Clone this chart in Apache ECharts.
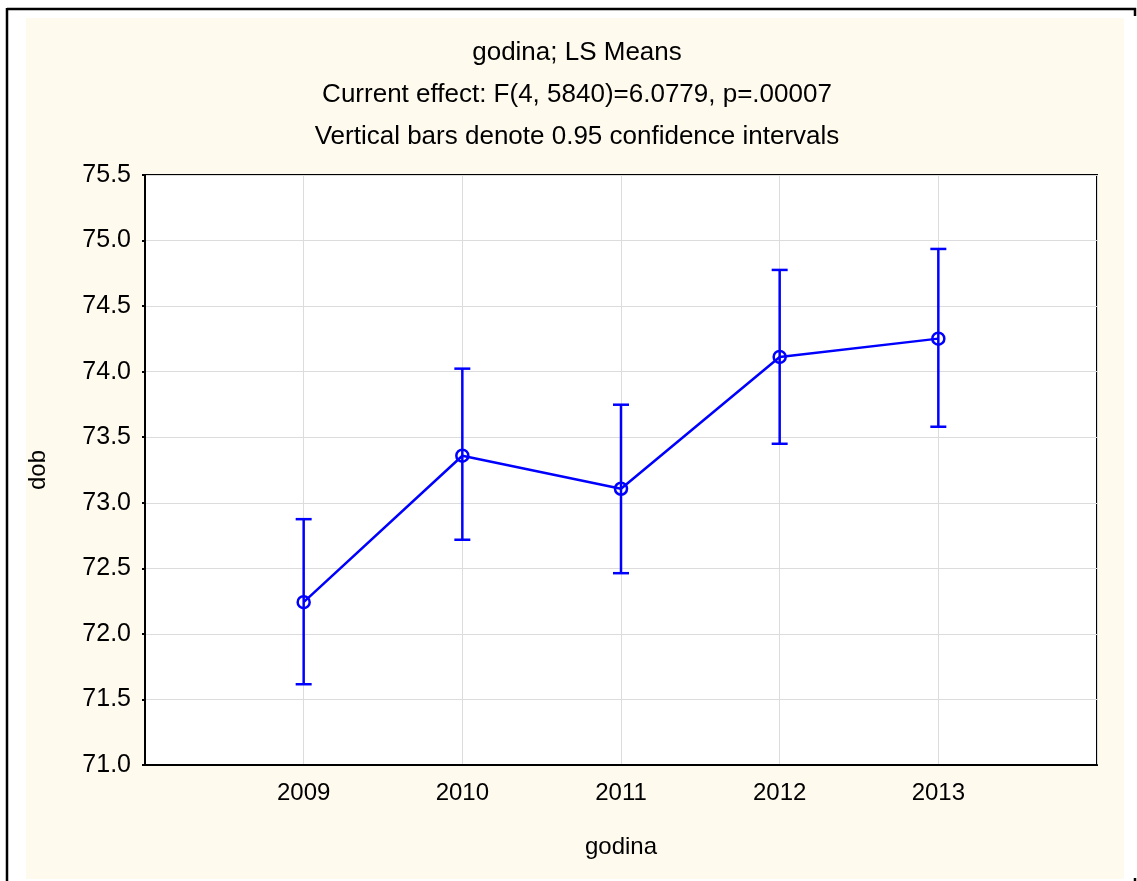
<!DOCTYPE html>
<html><head><meta charset="utf-8">
<script src="https://cdn.jsdelivr.net/npm/echarts@6/dist/echarts.min.js"></script>
<style>html,body{margin:0;padding:0;background:#fff}#c{width:1137px;height:881px}</style>
</head><body><div id="c"></div>
<script>
const years = [2009, 2010, 2011, 2012, 2013];
const means = [72.242, 73.359, 73.107, 74.112, 74.252];
const lower = [71.616, 72.718, 72.463, 73.450, 73.580];
const upper = [72.875, 74.023, 73.748, 74.776, 74.936];
const titleLines = [
  'godina; LS Means',
  'Current effect: F(4, 5840)=6.0779, p=.00007',
  'Vertical bars denote 0.95 confidence intervals'
];
const xName = 'godina';
const yName = 'dob';

const FONT = '"Liberation Sans", Arial, sans-serif';
const BLUE = '#0000FF';

const chart = echarts.init(document.getElementById('c'), null, {renderer: 'canvas'});
const lineData = years.map((y, i) => [y, means[i]]);
const errData = years.map((y, i) => [y, lower[i], upper[i]]);

const titleTexts = titleLines.map((t, i) => ({
  type: 'text', x: 577, y: 53 + i * 42, z: 10,
  style: {text: t, fill: '#000', font: '26px ' + FONT, textAlign: 'center', textVerticalAlign: 'middle'}
}));

chart.setOption({
  backgroundColor: '#fff',
  animation: false,
  graphic: [
    {type: 'rect', shape: {x: 26, y: 18, width: 1098, height: 861}, style: {fill: '#FFFAEE'}, z: -100, silent: true},
    {type: 'line', shape: {x1: 7, y1: 9, x2: 1136, y2: 9}, style: {stroke: '#000', lineWidth: 2.5}, z: 10},
    {type: 'line', shape: {x1: 7, y1: 8, x2: 7, y2: 881}, style: {stroke: '#000', lineWidth: 2.5}, z: 10},
    {type: 'line', shape: {x1: 1135, y1: 8, x2: 1135, y2: 16}, style: {stroke: '#000', lineWidth: 2.5}, z: 10},
    {type: 'line', shape: {x1: 1135, y1: 878, x2: 1135, y2: 881}, style: {stroke: '#000', lineWidth: 2.5}, z: 10}
  ].concat(titleTexts),
  grid: {
    left: 145, top: 175, width: 952, height: 590,
    show: true, backgroundColor: '#fff', borderColor: '#000', borderWidth: 2
  },
  xAxis: {
    type: 'value', min: 2008, max: 2014, interval: 1,
    name: xName, nameLocation: 'middle', nameGap: 70,
    nameTextStyle: {fontFamily: FONT, fontSize: 24, color: '#000'},
    axisLine: {show: true, lineStyle: {color: '#000', width: 2}},
    axisTick: {show: false},
    axisLabel: {
      fontFamily: FONT, fontSize: 24, color: '#000', margin: 16,
      formatter: v => (v === 2008 || v === 2014) ? '' : String(v)
    },
    splitLine: {show: true, lineStyle: {color: '#DCDCDC', width: 1}}
  },
  yAxis: {
    type: 'value', min: 71.0, max: 75.5, interval: 0.5,
    name: yName, nameLocation: 'middle', nameGap: 95, nameRotate: 90,
    nameTextStyle: {fontFamily: FONT, fontSize: 24, color: '#000'},
    axisLine: {show: true, lineStyle: {color: '#000', width: 2}},
    axisTick: {show: true, length: 3, lineStyle: {color: '#000', width: 2}},
    axisLabel: {
      fontFamily: FONT, fontSize: 25, color: '#000', margin: 14,
      formatter: v => v.toFixed(1)
    },
    splitLine: {show: true, lineStyle: {color: '#DCDCDC', width: 1}}
  },
  series: [
    {
      type: 'custom', z: 3,
      data: errData,
      renderItem: (params, api) => {
        const x = api.value(0);
        const lo = api.coord([x, api.value(1)]);
        const hi = api.coord([x, api.value(2)]);
        const hw = 8;
        const st = {stroke: BLUE, lineWidth: 2.5};
        return {
          type: 'group',
          children: [
            {type: 'line', shape: {x1: lo[0], y1: lo[1], x2: hi[0], y2: hi[1]}, style: st},
            {type: 'line', shape: {x1: lo[0] - hw, y1: lo[1], x2: lo[0] + hw, y2: lo[1]}, style: st},
            {type: 'line', shape: {x1: hi[0] - hw, y1: hi[1], x2: hi[0] + hw, y2: hi[1]}, style: st}
          ]
        };
      }
    },
    {
      type: 'line', z: 4,
      data: lineData,
      symbol: 'circle', symbolSize: 12, showSymbol: true,
      lineStyle: {color: BLUE, width: 2.5},
      itemStyle: {color: 'rgba(0,0,0,0)', borderColor: BLUE, borderWidth: 2.5}
    }
  ]
});
</script></body></html>
